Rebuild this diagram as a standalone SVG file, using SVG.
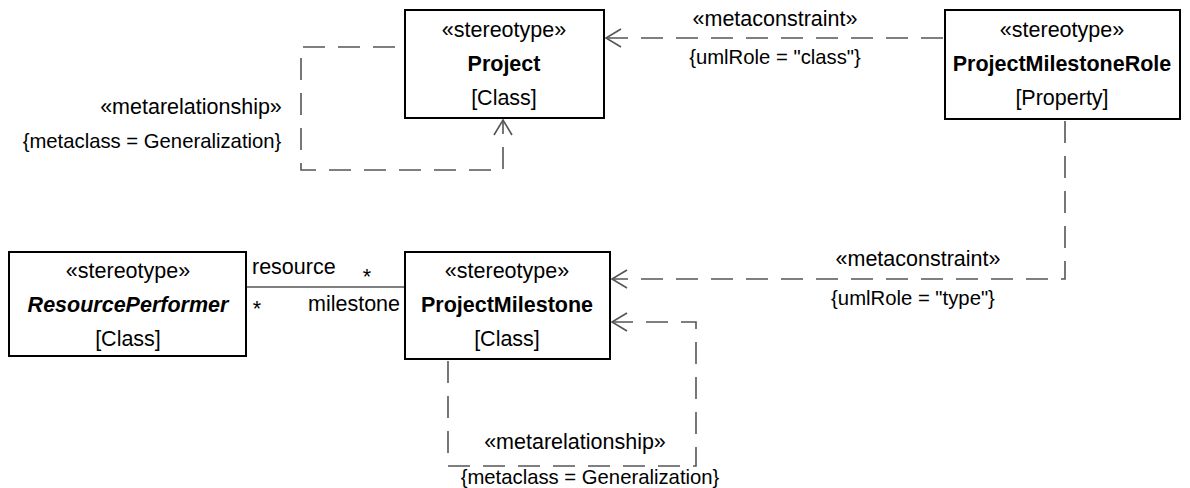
<svg xmlns="http://www.w3.org/2000/svg" width="1190" height="488" viewBox="0 0 1190 488">
<defs>
<style>
text{font-family:"Liberation Sans",Arial,sans-serif;font-size:21.5px;fill:#000}
.k{font-size:20.3px}
.c{text-anchor:middle}
.b{font-weight:bold;font-size:21.5px}
.bi{font-weight:bold;font-style:italic}
.box{fill:#fff;stroke:#000;stroke-width:2}
.dash{fill:none;stroke:#555;stroke-width:1.6;stroke-dasharray:22 13}
.solid{fill:none;stroke:#555;stroke-width:1.6}
.ah{fill:none;stroke:#555;stroke-width:1.6}
</style>
</defs>
<g id="connectors">
<g id="c1">
<path class="dash" d="M395,47 H301 V170 H503 V120"/>
<path class="ah" d="M494,135 L503,120 L512,135"/>
<text x="191" y="114" class="c">«metarelationship»</text>
<text x="152" y="148" class="c k">{metaclass = Generalization}</text>
</g>
<g id="c2">
<path class="dash" d="M943,38 H606"/>
<path class="ah" d="M621,29 L606,38 L621,47"/>
<text x="775" y="26" class="c">«metaconstraint»</text>
<text x="775" y="64" class="c k">{umlRole = "class"}</text>
</g>
<g id="c3">
<path class="dash" d="M1065,121 V279 H612"/>
<path class="ah" d="M627,270 L612,279 L627,288"/>
<text x="918" y="266" class="c">«metaconstraint»</text>
<text x="913" y="305" class="c k">{umlRole = "type"}</text>
</g>
<g id="c4">
<path class="solid" d="M246,287 H405"/>
<text x="252" y="274">resource</text>
<text x="367" y="284" class="c">*</text>
<text x="257" y="316" class="c">*</text>
<text x="400" y="311" text-anchor="end">milestone</text>
</g>
<g id="c5">
<path class="dash" d="M448,361 V466 H696 V322 H612"/>
<path class="ah" d="M627,313 L612,322 L627,331"/>
<text x="575" y="449" class="c">«metarelationship»</text>
<text x="590" y="484" class="c k">{metaclass = Generalization}</text>
</g>
</g>
<g id="Project">
<rect class="box" x="405" y="10" width="199" height="108"/>
<text x="504" y="37" class="c">«stereotype»</text>
<text x="504" y="71" class="c b">Project</text>
<text x="504" y="105" class="c">[Class]</text>
</g>
<g id="ProjectMilestoneRole">
<rect class="box" x="945" y="10" width="235" height="109"/>
<text x="1062" y="37" class="c">«stereotype»</text>
<text x="1062" y="71" class="c b">ProjectMilestoneRole</text>
<text x="1062" y="105" class="c">[Property]</text>
</g>
<g id="ResourcePerformer">
<rect class="box" x="9" y="252" width="237" height="104"/>
<text x="128" y="278" class="c">«stereotype»</text>
<text x="128" y="312" class="c bi">ResourcePerformer</text>
<text x="128" y="346" class="c">[Class]</text>
</g>
<g id="ProjectMilestone">
<rect class="box" x="405" y="252" width="205" height="107"/>
<text x="507" y="278" class="c">«stereotype»</text>
<text x="507" y="312" class="c b">ProjectMilestone</text>
<text x="507" y="346" class="c">[Class]</text>
</g>
</svg>
